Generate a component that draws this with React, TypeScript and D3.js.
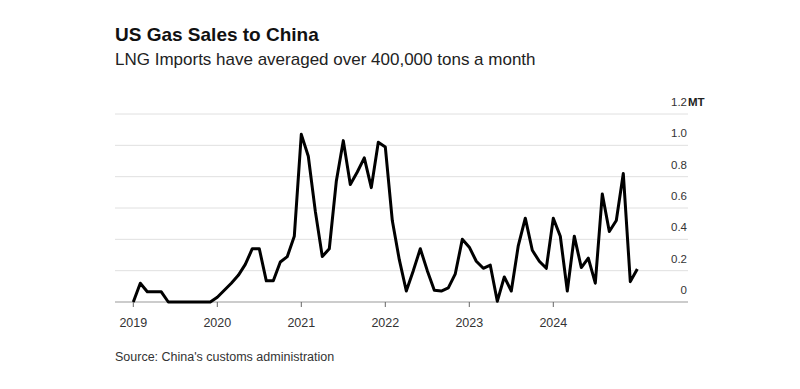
import React from "react";
import * as d3 from "d3";

const title = "US Gas Sales to China";
const subtitle = "LNG Imports have averaged over 400,000 tons a month";
const source = "Source: China's customs administration";

// Monthly LNG imports, million tons, Jan 2019 .. Jan 2025
const startYear = 2019;
const values: number[] = [
  0, 0.12, 0.065, 0.065, 0.065, 0, 0, 0, 0, 0, 0, 0,
  0.03, 0.075, 0.12, 0.17, 0.24, 0.34, 0.34, 0.135, 0.135, 0.255, 0.29, 0.42,
  1.07, 0.93, 0.58, 0.29, 0.34, 0.77, 1.03, 0.75, 0.83, 0.92, 0.73, 1.02,
  0.99, 0.52, 0.27, 0.07, 0.2, 0.34, 0.2, 0.075, 0.07, 0.09, 0.18, 0.4,
  0.35, 0.26, 0.215, 0.235, 0.005, 0.16, 0.07, 0.36, 0.535, 0.33, 0.26, 0.215,
  0.535, 0.42, 0.07, 0.42, 0.22, 0.28, 0.12, 0.69, 0.45, 0.52, 0.82, 0.13,
  0.21,
];
const yearTicks = [2019, 2020, 2021, 2022, 2023, 2024];
const yTicks = [0, 0.2, 0.4, 0.6, 0.8, 1.0, 1.2];
const yTickLabels = ["0", "0.2", "0.4", "0.6", "0.8", "1.0", "1.2"];
const yUnit = "MT";

const W = 800;
const H = 389;
const FONT = "'Liberation Sans', Arial, Helvetica, sans-serif";

export default function App() {
  const x = d3.scaleLinear().domain([0, 72]).range([133.3, 637.3]);
  const y = d3.scaleLinear().domain([0, 1.2]).range([302, 114]);
  const gridX0 = 115;
  const gridX1 = 688;

  const line = d3
    .line<number>()
    .x((_, i) => x(i))
    .y((d) => y(d))
    .curve(d3.curveLinear);

  return (
    <svg
      width={W}
      height={H}
      style={{ position: "absolute", left: 0, top: 0, background: "#fff" }}
      fontFamily={FONT}
    >
      <rect x={0} y={0} width={W} height={H} fill="#fff" />
      <text x={115} y={41} fontSize={19} fontWeight="bold" fill="#111">
        {title}
      </text>
      <text x={115} y={65} fontSize={17} fill="#222">
        {subtitle}
      </text>

      {yTicks.map((t, i) =>
        t === 0 ? null : (
          <line
            key={"g" + i}
            x1={gridX0}
            x2={gridX1}
            y1={y(t)}
            y2={y(t)}
            stroke="#e0e0e0"
            strokeWidth={1}
          />
        )
      )}
      {yTicks.map((t, i) => (
        <text
          key={"yl" + i}
          x={687}
          y={y(t) - 8}
          fontSize={11.5}
          textAnchor="end"
          fill="#333"
        >
          {yTickLabels[i]}
        </text>
      ))}
      <text x={688} y={y(1.2) - 8} fontSize={11.5} fill="#222" fontWeight="bold">
        {yUnit}
      </text>

      <line x1={gridX0} x2={gridX1} y1={y(0)} y2={y(0)} stroke="#999" strokeWidth={1} />
      {yearTicks.map((yr) => {
        const xi = x((yr - startYear) * 12);
        return (
          <g key={yr}>
            <line x1={xi} x2={xi} y1={y(0)} y2={y(0) + 5} stroke="#666" strokeWidth={1} />
            <text x={xi} y={326.5} fontSize={12.5} textAnchor="middle" fill="#333">
              {yr}
            </text>
          </g>
        );
      })}

      <path
        d={line(values) || ""}
        fill="none"
        stroke="#000"
        strokeWidth={3}
        strokeLinejoin="round"
        strokeLinecap="butt"
      />

      <text x={115} y={361} fontSize={12.5} fill="#333">
        {source}
      </text>
    </svg>
  );
}
